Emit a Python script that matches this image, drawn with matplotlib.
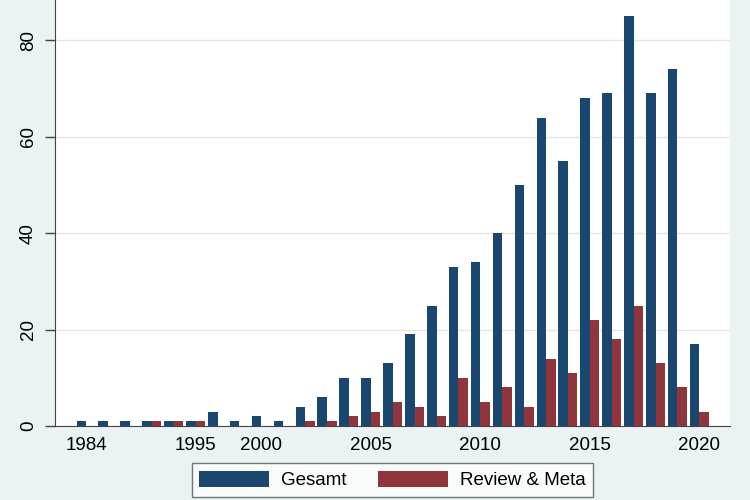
import numpy as np
import matplotlib
matplotlib.use("Agg")
import matplotlib.pyplot as plt

plt.rcParams['font.family'] = ['Liberation Sans', 'DejaVu Sans']

# categories (only years that occur in the data), labelled years shown on axis
years = [1984, 1987, 1989, 1991, 1993, 1995, 1997, 1998, 2000, 2001, 2002, 2003, 2004,
         2005, 2006, 2007, 2008, 2009, 2010, 2011, 2012, 2013, 2014, 2015, 2016, 2017,
         2018, 2019, 2020]
shown_years = [1984, 1995, 2000, 2005, 2010, 2015, 2020]

gesamt = [1, 1, 1, 1, 1, 1, 3, 1, 2, 1, 4, 6, 10, 10, 13, 19, 25, 33, 34, 40, 50, 64,
          55, 68, 69, 85, 69, 74, 17]
review_meta = [0, 0, 0, 1, 1, 1, 0, 0, 0, 0, 1, 1, 2, 3, 5, 4, 2, 10, 5, 8, 4, 14,
               11, 22, 18, 25, 13, 8, 3]

blue = '#1a476f'
red = '#90353b'
bg = '#eaf2f3'

fig = plt.figure(figsize=(7.5, 5), dpi=100, facecolor=bg)
ax = fig.add_axes([55 / 750, 74 / 500, 675 / 750, 426 / 500])
ax.set_facecolor('white')

x = np.arange(len(years))
w = 0.435
ax.bar(x - w / 2, gesamt, width=w, color=blue, label='Gesamt', zorder=3)
ax.bar(x + w / 2, review_meta, width=w, color=red, label='Review & Meta', zorder=3)

ax.set_xlim(-1.42, 29.4)
ax.set_ylim(0, 88.4)

ax.set_yticks([0, 20, 40, 60, 80])
ax.set_yticklabels(['0', '20', '40', '60', '80'], rotation=90, va='center', fontsize=13.5)
ax.yaxis.grid(True, color='#e6e6e6', linewidth=1, zorder=0)

ax.set_xticks([years.index(y) for y in shown_years])
ax.set_xticklabels([str(y) for y in shown_years], fontsize=13.5)
ax.tick_params(axis='x', length=0, pad=8)
ax.tick_params(axis='y', length=7, width=1, color='#444444', pad=6)

for s in ['top', 'right']:
    ax.spines[s].set_visible(False)
ax.spines['left'].set_color('#444444')
ax.spines['bottom'].set_color('#444444')

leg = fig.legend(loc='center', bbox_to_anchor=(0.523, 0.04), ncol=2, fontsize=13.5,
                 frameon=True, fancybox=False, handlelength=3.75, handleheight=0.95,
                 handletextpad=0.6, columnspacing=1.7, borderpad=0.4, borderaxespad=0)
leg.get_frame().set_edgecolor('#555555')
leg.get_frame().set_linewidth(1)

fig.savefig('out.png', dpi=100, facecolor=bg)
